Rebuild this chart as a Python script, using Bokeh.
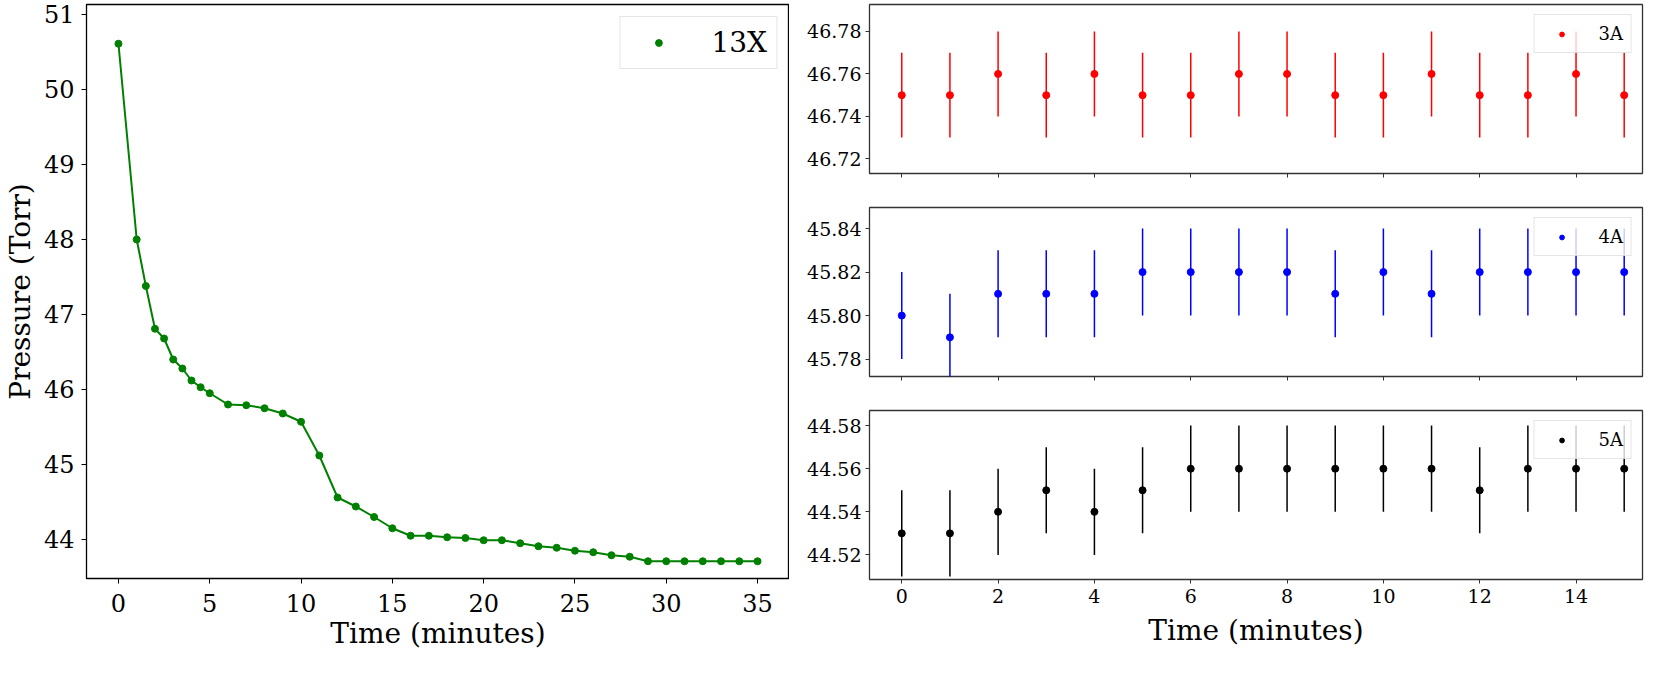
from bokeh.plotting import figure
from bokeh.layouts import row, column
from bokeh.models import FixedTicker, NumeralTickFormatter, Range1d, ColumnDataSource
from bokeh.embed import file_html
from bokeh.resources import INLINE

FONT = "DejaVu Serif"

# ---- data: 13X pressure decay ----
t_13x = [0, 1, 1.5, 2, 2.5, 3, 3.5, 4, 4.5, 5,
         6, 7, 8, 9, 10, 11, 12, 13, 14, 15,
         16, 17, 18, 19, 20, 21, 22, 23, 24, 25,
         26, 27, 28, 29, 30, 31, 32, 33, 34, 35]
p_13x = [50.61, 48.00, 47.38, 46.81, 46.68, 46.40, 46.28, 46.12, 46.03, 45.95,
         45.80, 45.79, 45.75, 45.68, 45.57, 45.12, 44.56, 44.44, 44.30, 44.15,
         44.05, 44.05, 44.03, 44.02, 43.99, 43.99, 43.95, 43.91, 43.89, 43.85,
         43.83, 43.79, 43.77, 43.71, 43.71, 43.71, 43.71, 43.71, 43.71, 43.71]

# ---- data: 3A / 4A / 5A with error bars ----
minutes = [0, 1, 2, 3, 4, 5, 6, 7, 8, 9, 10, 11, 12, 13, 14, 15]
p_3a = [46.75, 46.75, 46.76, 46.75, 46.76, 46.75, 46.75, 46.76,
        46.76, 46.75, 46.75, 46.76, 46.75, 46.75, 46.76, 46.75]
err_3a = [0.02] * 16
p_4a = [45.80, 45.79, 45.81, 45.81, 45.81, 45.82, 45.82, 45.82,
        45.82, 45.81, 45.82, 45.81, 45.82, 45.82, 45.82, 45.82]
err_4a = [0.02] * 16
p_5a = [44.53, 44.53, 44.54, 44.55, 44.54, 44.55, 44.56, 44.56,
        44.56, 44.56, 44.56, 44.56, 44.55, 44.56, 44.56, 44.56]
err_5a = [0.02] * 16

ticks_13x_x = [0, 5, 10, 15, 20, 25, 30, 35]
ticks_13x_y = [44, 45, 46, 47, 48, 49, 50, 51]
ticks_zeo_x = [0, 2, 4, 6, 8, 10, 12, 14]
ticks_3a = [46.72, 46.74, 46.76, 46.78]
ticks_4a = [45.78, 45.80, 45.82, 45.84]
ticks_5a = [44.52, 44.54, 44.56, 44.58]


def style_axes(p, tick_size, frame_color):
    p.outline_line_color = frame_color
    p.outline_line_width = 1.3
    p.outline_line_alpha = 1.0
    for ax in (p.xaxis[0], p.yaxis[0]):
        ax.axis_line_color = None
        ax.major_tick_in = 0
        ax.minor_tick_line_color = None
        ax.major_tick_line_color = frame_color
        ax.major_label_text_font = FONT
        ax.major_label_text_font_size = tick_size
        ax.major_label_text_color = "black"
        ax.axis_label_text_font = FONT
        ax.axis_label_text_font_style = "normal"
        ax.axis_label_text_font_size = "28px"
        ax.axis_label_text_color = "black"
    p.xgrid.grid_line_color = None
    p.ygrid.grid_line_color = None
    p.background_fill_color = "white"
    p.border_fill_color = "white"


def style_legend(lg, font_size):
    lg.location = "top_right"
    lg.label_text_font = FONT
    lg.label_text_font_size = font_size
    lg.label_text_color = "black"
    lg.border_line_color = "#cccccc"
    lg.border_line_width = 1
    lg.background_fill_alpha = 0.8


# ---- left panel ----
left = figure(frame_width=703, frame_height=574,
              x_range=Range1d(-1.75, 36.75), y_range=Range1d(43.48, 51.133),
              output_backend="svg", toolbar_location=None,
              min_border_left=81, min_border_right=0, min_border_top=4,
              min_border_bottom=0)
style_axes(left, "24px", "black")
left.xaxis[0].ticker = FixedTicker(ticks=ticks_13x_x)
left.yaxis[0].ticker = FixedTicker(ticks=ticks_13x_y)
left.xaxis[0].major_tick_out = 5
left.yaxis[0].major_tick_out = 5
left.xaxis[0].major_label_standoff = 10
left.yaxis[0].major_label_standoff = 7
left.xaxis[0].axis_label = "Time (minutes)"
left.yaxis[0].axis_label = "Pressure (Torr)"
left.xaxis[0].axis_label_standoff = 2
left.yaxis[0].axis_label_standoff = 4

src13 = ColumnDataSource(dict(t=t_13x, p=p_13x))
left.line("t", "p", source=src13, line_color="#008000", line_width=2)
left.scatter("t", "p", source=src13, size=7, fill_color="#008000",
             line_color="#008000", legend_label="13X")
lg = left.legend[0]
style_legend(lg, "28px")
lg.margin = 12
lg.padding = 9
lg.glyph_width = 58
lg.glyph_height = 17
lg.label_standoff = 24

# ---- right panels ----
xr = Range1d(-0.67, 15.38)


def zeo_panel(vals, errs, color, label, yr, yticks, last):
    p = figure(frame_width=773, frame_height=169, x_range=xr,
               y_range=Range1d(*yr), output_backend="svg",
               toolbar_location=None, min_border_left=80,
               min_border_right=8, min_border_top=4,
               min_border_bottom=0 if last else 30)
    style_axes(p, "19px", "#333333")
    p.xaxis[0].ticker = FixedTicker(ticks=ticks_zeo_x)
    p.yaxis[0].ticker = FixedTicker(ticks=yticks)
    p.yaxis[0].formatter = NumeralTickFormatter(format="0.00")
    p.xaxis[0].major_tick_out = 4
    p.yaxis[0].major_tick_out = 4
    p.yaxis[0].major_label_standoff = 4
    p.xaxis[0].major_label_standoff = 5
    if last:
        p.xaxis[0].axis_label = "Time (minutes)"
        p.xaxis[0].axis_label_standoff = 8
    else:
        p.xaxis[0].major_label_overrides = {t: "" for t in ticks_zeo_x}
    lo = [v - e for v, e in zip(vals, errs)]
    hi = [v + e for v, e in zip(vals, errs)]
    src = ColumnDataSource(dict(t=minutes, y=vals, lo=lo, hi=hi))
    p.segment(x0="t", y0="lo", x1="t", y1="hi", source=src,
              line_color=color, line_width=1.5)
    p.scatter("t", "y", source=src, size=7, fill_color=color,
              line_color=color, legend_label=label)
    l = p.legend[0]
    style_legend(l, "18px")
    l.margin = 10
    l.padding = 8
    l.glyph_width = 38
    l.glyph_height = 12
    l.label_height = 16
    l.label_standoff = 18
    return p


p3 = zeo_panel(p_3a, err_3a, "#ff0000", "3A", (46.7131, 46.7927), ticks_3a, False)
p4 = zeo_panel(p_4a, err_4a, "#0000ff", "4A", (45.772, 45.8497), ticks_4a, False)
p5 = zeo_panel(p_5a, err_5a, "#000000", "5A", (44.5086, 44.587), ticks_5a, True)

layout = row(left, column(p3, p4, p5))

open("out.html", "w").write(file_html(layout, INLINE))
